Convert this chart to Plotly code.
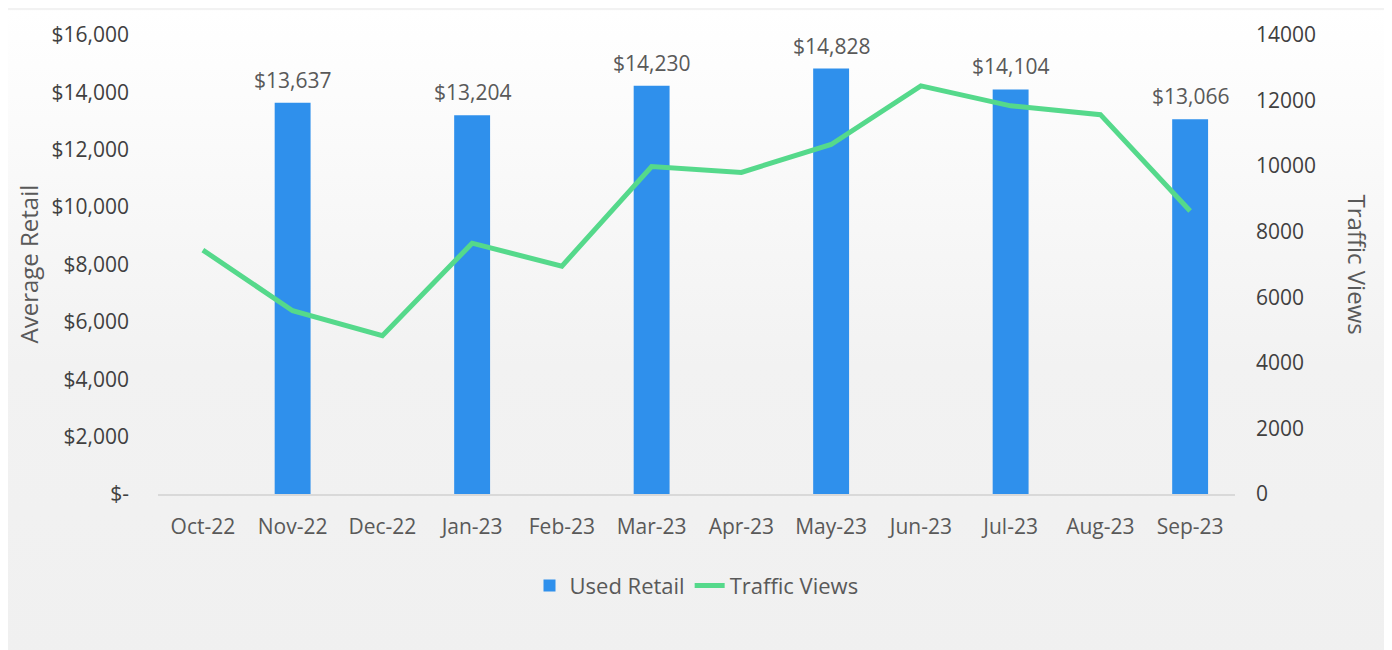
import base64
import plotly.graph_objects as go

months = ["Oct-22", "Nov-22", "Dec-22", "Jan-23", "Feb-23", "Mar-23",
          "Apr-23", "May-23", "Jun-23", "Jul-23", "Aug-23", "Sep-23"]
used_retail = [None, 13637, None, 13204, None, 14230,
               None, 14828, None, 14104, None, 13066]
traffic_views = [7440, 5590, 4830, 7650, 6950, 9990,
                 9810, 10660, 12450, 11840, 11570, 8630]

left_tickvals = [0, 2000, 4000, 6000, 8000, 10000, 12000, 14000, 16000]
left_ticktext = ["$-", "$2,000", "$4,000", "$6,000", "$8,000",
                 "$10,000", "$12,000", "$14,000", "$16,000"]
right_tickvals = [0, 2000, 4000, 6000, 8000, 10000, 12000, 14000]
right_ticktext = ["0", "2000", "4000", "6000", "8000", "10000", "12000", "14000"]

FONT = "Open Sans, Noto Sans, sans-serif"
TXT = "#595959"
DARK = "#404040"

W, H = 1392, 650
L, R, T, B = 150, 165, 25, 164
PW, PH = W - L - R, H - T - B

# background gradient (white at top to light grey)
svg = ('<svg xmlns="http://www.w3.org/2000/svg" width="100" height="100" preserveAspectRatio="none">'
       '<defs><linearGradient id="g" x1="0" y1="0" x2="0" y2="1">'
       '<stop offset="0" stop-color="#ffffff"/><stop offset="0.55" stop-color="#f2f2f2"/>'
       '<stop offset="1" stop-color="#f0f0f0"/></linearGradient></defs>'
       '<rect width="100" height="100" fill="url(#g)"/></svg>')
bg_src = "data:image/svg+xml;base64," + base64.b64encode(svg.encode()).decode()

fig = go.Figure()
fig.add_trace(go.Bar(
    x=months, y=used_retail, name="Used Retail",
    marker=dict(color="#2f90ec", line=dict(width=0)),
    width=0.4,
))
fig.add_trace(go.Scatter(
    x=months, y=traffic_views, name="Traffic Views", yaxis="y2",
    mode="lines", line=dict(color="#55d98b", width=5),
))

annotations = []
for m, v in zip(months, used_retail):
    if v is None:
        continue
    annotations.append(dict(x=m, y=v, xref="x", yref="y", text=f"${v:,.0f}",
                            showarrow=False, yanchor="bottom", yshift=7,
                            font=dict(size=21, color=TXT, family=FONT)))
annotations += [
    dict(text="Average Retail", xref="paper", yref="paper", x=(20 - L) / PW, y=0.5,
         textangle=-90, showarrow=False, font=dict(size=24, color=TXT, family=FONT),
         xanchor="center", yanchor="middle"),
    dict(text="Traffic Views", xref="paper", yref="paper", x=(1349 - L) / PW, y=0.5,
         textangle=90, showarrow=False, font=dict(size=24, color=TXT, family=FONT),
         xanchor="center", yanchor="middle"),
]

fig.update_layout(
    width=W, height=H,
    margin=dict(l=L, r=R, t=T, b=B),
    paper_bgcolor="#f2f2f2", plot_bgcolor="rgba(0,0,0,0)",
    font=dict(family=FONT, color=TXT),
    showlegend=True,
    legend=dict(orientation="h", x=0.5, xanchor="center", y=-0.2, yanchor="middle",
                font=dict(size=22, color=TXT, family=FONT),
                bgcolor="rgba(0,0,0,0)"),
    xaxis=dict(showgrid=False, showline=True, linecolor="#d9d9d9", linewidth=1.5,
               ticks="", tickfont=dict(size=21, color=TXT, family=FONT),
               ticklabelstandoff=13),
    yaxis=dict(range=[0, 16000], tickvals=left_tickvals, ticktext=left_ticktext,
               showgrid=False, zeroline=False, showline=False,
               tickfont=dict(size=21, color=DARK, family=FONT),
               ticklabelstandoff=28),
    yaxis2=dict(range=[0, 14000], tickvals=right_tickvals, ticktext=right_ticktext,
                overlaying="y", side="right",
                showgrid=False, zeroline=False, showline=False,
                tickfont=dict(size=21, color=DARK, family=FONT),
                ticklabelstandoff=20),
    annotations=annotations,
    images=[dict(source=bg_src, xref="paper", yref="paper",
                 x=-L / PW, y=(PH + T) / PH, sizex=W / PW, sizey=H / PH,
                 xanchor="left", yanchor="top", sizing="stretch", layer="below")],
)

fig.write_html("out.html")
